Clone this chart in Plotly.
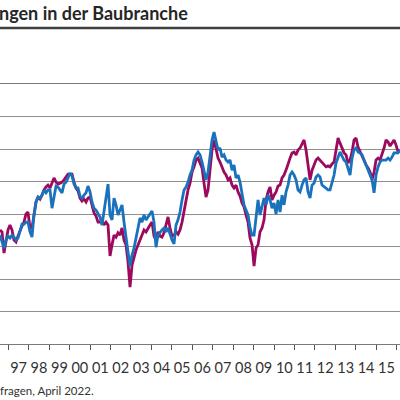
import pandas as pd
import plotly.graph_objects as go

# ---- text (as visible in the cropped reference) ----
title_text = "ngen in der Baubranche"
source_text = "fragen, April 2022."
series_names = ["Geschäftslage", "Geschäftserwartungen"]

start_date = "1996-08-05"
sample_step_days = 35.74

lage = [
    -14.9, -15.5, -22.0, -18.0, -14.9, -13.4, -14.9, -18.0, -18.6, -16.8,
    -14.9, -13.7, -12.5, -10.0, -9.4, -14.3, -14.3, -9.4, -6.3, -4.8,
    -5.4, -4.2, -2.6, -1.7, -1.1, -2.0, -0.5, 1.1, -0.2, -0.8,
    -0.5, -0.2, 0.5, 1.4, 2.3, 2.3, 2.3, -0.2, -2.0, -2.9,
    -5.1, -6.0, -5.4, -6.3, -5.1, -4.8, -7.5, -9.7, -10.6, -12.5,
    -12.5, -11.8, -13.4, -12.5, -13.4, -22.9, -19.5, -16.5, -17.1, -15.8,
    -16.5, -14.3, -18.0, -19.5, -24.8, -32.5, -25.7, -23.2, -21.1, -19.5,
    -18.0, -16.2, -14.9, -15.5, -14.3, -13.4, -12.5, -16.8, -18.0, -15.5,
    -16.8, -17.1, -15.8, -13.1, -10.9, -14.3, -16.8, -16.5, -15.5, -16.2,
    -14.9, -12.5, -8.8, -5.1, -2.6, -0.5, 2.9, 4.5, 6.6, 7.2,
    5.7, 4.2, -0.5, -4.8, -2.6, 3.5, 9.7, 12.8, 10.3, 7.2,
    6.0, 4.2, 2.9, 2.0, 0.5, 1.1, -1.1, -2.0, -1.1, -3.2,
    -4.5, -6.6, -7.8, -10.3, -12.5, -17.4, -19.5, -26.0, -20.5, -19.5,
    -15.5, -14.3, -11.8, -5.7, -3.2, -1.7, -5.7, -4.2, -3.2, -1.4,
    -1.1, 1.1, 2.0, 3.5, 5.7, 7.2, 8.8, 9.1, 8.2, 9.7,
    10.3, 11.8, 12.8, 9.7, 5.1, 0.5, 3.5, 5.1, 6.6, 7.2,
    6.6, 5.7, 5.1, 4.5, 4.8, 4.5, 5.4, 6.0, 9.7, 13.4,
    11.8, 10.3, 8.8, 8.2, 5.7, 6.6, 9.1, 12.8, 13.4, 10.6,
    9.1, 7.5, 6.6, 5.1, 4.2, 2.9, 0.5, 2.9, 6.6, 7.2,
    6.6, 8.2, 10.3, 12.8, 12.2, 10.9, 11.8, 12.8, 11.2, 9.1,
    9.7,
]

erwartungen = [
    -16.5, -18.9, -20.5, -18.0, -16.8, -17.4, -16.5, -17.1, -18.0, -17.4,
    -15.5, -13.1, -13.1, -12.5, -12.5, -15.5, -17.1, -10.3, -6.3, -4.8,
    -5.1, -4.2, -2.6, -3.5, -2.6, -2.6, -8.2, -4.2, -1.4, -1.7,
    -2.6, -3.5, -0.8, -0.2, 1.1, 2.6, 1.7, -0.8, -2.0, -2.0,
    -4.5, -5.1, -4.2, -3.5, -1.4, -3.2, -6.3, -8.2, -8.8, -10.0,
    -10.9, -13.4, -8.8, -4.2, -0.8, -10.3, -11.8, -5.1, -7.2, -10.3,
    -8.8, -7.2, -12.5, -18.0, -21.7, -26.0, -22.6, -20.5, -17.4, -13.4,
    -11.2, -12.5, -10.3, -11.8, -10.9, -9.7, -9.1, -12.5, -20.2, -16.5,
    -15.5, -14.9, -14.3, -15.5, -14.3, -16.5, -18.0, -19.2, -13.4, -11.8,
    -9.4, -5.7, -2.6, -1.7, -0.2, 2.0, 3.5, 6.6, 8.2, 9.1,
    8.2, 6.0, 3.5, 0.5, 2.9, 8.2, 12.8, 15.2, 12.8, 9.7,
    10.3, 7.5, 8.2, 6.6, 6.0, 6.6, 3.5, 5.1, 1.1, 2.0,
    -0.2, -4.2, -7.2, -8.8, -10.3, -14.3, -16.5, -16.5, -10.3, -5.7,
    -10.3, -7.2, -5.1, -7.2, -4.2, -5.7, -8.2, -6.6, -10.0, -5.7,
    -9.4, -4.2, -7.2, -3.2, -1.1, 2.0, 2.9, 2.0, 0.5, -2.6,
    -3.2, -1.1, 0.5, 1.1, -3.2, -5.1, -1.1, -0.5, 1.4, 2.0,
    1.4, -1.1, -1.7, -2.0, -2.6, -2.6, -0.5, 2.0, 5.7, 7.5,
    9.1, 7.8, 6.6, 6.0, 4.2, 2.0, 7.2, 9.7, 10.3, 9.1,
    8.8, 8.2, 6.6, 5.1, 3.5, 2.0, 0.5, -3.5, 2.0, 4.5,
    6.0, 6.6, 6.6, 6.6, 7.2, 6.6, 7.5, 8.8, 8.8, 8.8,
    9.7,
]

x_range = ["1996-08-05", "2016-02-29"]
y_min, y_max, y_step = -50, 30, 10

colors = ["#9C0A5E", "#1A72BD"]

dates = pd.date_range(start=start_date, periods=len(lage),
                      freq=pd.Timedelta(days=sample_step_days))

fig = go.Figure()
for name, vals, col in zip(series_names, [lage, erwartungen], colors):
    fig.add_trace(go.Scatter(x=dates, y=vals, mode="lines", name=name,
                             line=dict(color=col, width=2.8),
                             showlegend=False, hoverinfo="skip"))

FONT = "Lato"
fig.update_layout(
    width=400, height=400,
    margin=dict(l=0, r=0, t=84, b=56),
    paper_bgcolor="white", plot_bgcolor="white",
    font=dict(family=FONT, color="#333333"),
    xaxis=dict(
        type="date", range=x_range, dtick="M12", tickformat="%y",
        ticklabelmode="period", ticks="outside", ticklen=5, tickwidth=1,
        tickcolor="#555555", showline=True, mirror=True,
        linecolor="#7a7a7a", linewidth=1,
        showgrid=False, zeroline=False, tickfont=dict(size=14.5, color="#333333"),
        ticklabelstandoff=6, automargin=False,
    ),
    yaxis=dict(
        range=[y_min, y_max], dtick=y_step, tick0=0, showgrid=True,
        gridcolor="#8f8f8f", gridwidth=1, zeroline=False,
        showticklabels=False, automargin=False,
    ),
    shapes=[dict(type="line", xref="paper", yref="paper", x0=0, x1=1,
                 y0=316 / 260, y1=316 / 260,
                 line=dict(color="#404040", width=2.5))],
    annotations=[
        dict(text="<b>" + title_text + "</b>", xref="paper", yref="paper",
             x=0, y=(344 - 13) / 260, xanchor="left", yanchor="middle",
             xshift=-3, showarrow=False,
             font=dict(size=18, family=FONT, color="#262626")),
        dict(text=source_text, xref="paper", yref="paper",
             x=0, y=(344 - 390) / 260, xanchor="left", yanchor="middle",
             xshift=-2, showarrow=False,
             font=dict(size=11.5, family=FONT, color="#333333")),
    ],
)

fig.write_html("out.html", config={"displayModeBar": False},
               post_script="document.body.style.margin='0';")
